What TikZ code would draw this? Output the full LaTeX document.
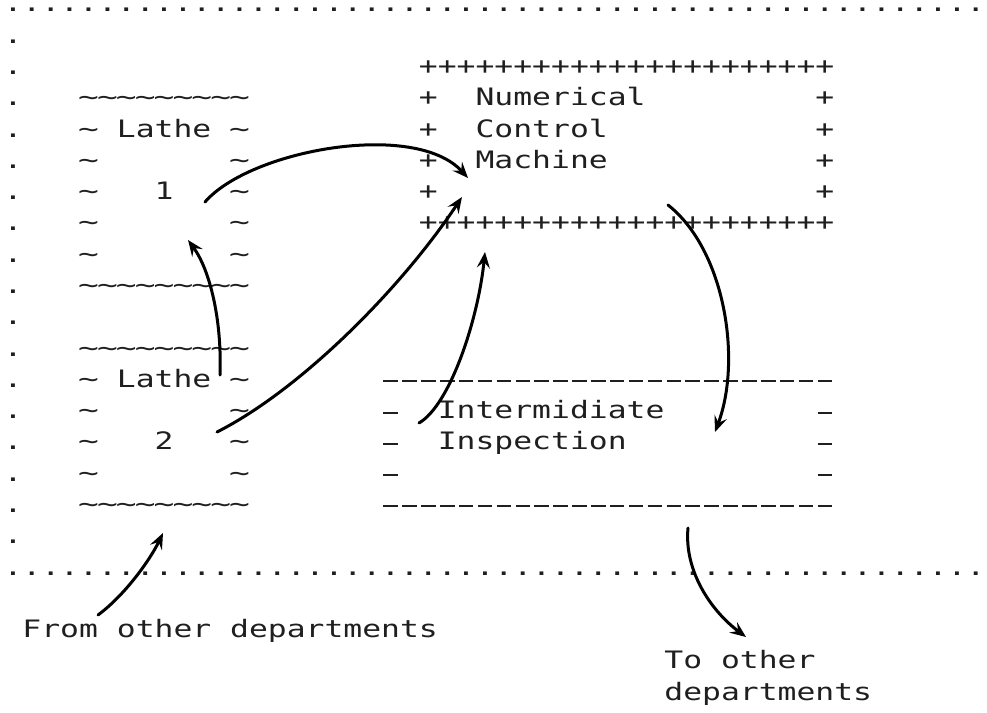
\documentclass[tikz,border=0pt]{standalone}
\usepackage{fontspec}
\newfontfamily\dotfont[FakeStretch=1.3067]{DejaVu Sans Mono}
\usetikzlibrary{arrows.meta}

% printer glyphs drawn a little wider than the font gives them
\newcommand\wavech{\makebox[17pt]{\scalebox{1.1}[1]{\char"7E}}}
\newcommand\dashch{\rule[5pt]{14.5pt}{2pt}}

\begin{document}
\begin{tikzpicture}[x=1pt,y=-1pt,
  glyph/.style={inner sep=0pt, outer sep=0pt, anchor=base west, text=black!88,
    font={\dotfont\fontsize{24}{24}\selectfont}},
  cellmark/.style={glyph, anchor=base},
  flow/.style={line width=3pt, line cap=round, line join=round,
    -{Stealth[length=16pt,width=13pt,inset=6pt]}}]

\useasboundingbox (0,0) rectangle (987,712);

% ---- printout on a character grid: one unit = one column / one line ----
\begin{scope}[shift={(3.6pt,-12pt)}, x=18.88pt, y=-31.28pt]

  % department border: dotted top and bottom lines, dotted left edge
  \foreach \c in {0,...,51} {
    \node[glyph] (rimtop-\c) at (\c,0) {.};
    \node[glyph] (rimbot-\c) at (\c,18) {.};
  }
  \foreach \r in {1,...,17}
    \node[glyph] (rimleft-\r) at (0,\r) {.};

  % Lathe 1 (tilde frame, lines 3..9)
  \foreach \c in {4,...,12} {
    \node[cellmark] (laA-top-\c) at (\c+0.5,3) {\wavech};
    \node[cellmark] (laA-bot-\c) at (\c+0.5,9) {\wavech};
  }
  \foreach \r in {4,...,8} {
    \node[cellmark] (laA-l-\r) at (4.5,\r) {\wavech};
    \node[cellmark] (laA-r-\r) at (12.5,\r) {\wavech};
  }
  \node[glyph] (latheA) at (6,4) {Lathe};
  \node[glyph] (numA) at (8,6) {1};

  % Lathe 2 (tilde frame, lines 11..16)
  \foreach \c in {4,...,12} {
    \node[cellmark] (laB-top-\c) at (\c+0.5,11) {\wavech};
    \node[cellmark] (laB-bot-\c) at (\c+0.5,16) {\wavech};
  }
  \foreach \r in {12,...,15} {
    \node[cellmark] (laB-l-\r) at (4.5,\r) {\wavech};
    \node[cellmark] (laB-r-\r) at (12.5,\r) {\wavech};
  }
  \node[glyph] (latheB) at (6,12) {Lathe};
  \node[glyph] (numB) at (8,14) {2};

  % Numerical Control Machine (plus frame, lines 2..7)
  \foreach \c in {22,...,43} {
    \node[glyph] (nc-top-\c) at (\c,2) {+};
    \node[glyph] (nc-bot-\c) at (\c,7) {+};
  }
  \foreach \r in {3,...,6} {
    \node[glyph] (nc-l-\r) at (22,\r) {+};
    \node[glyph] (nc-r-\r) at (43,\r) {+};
  }
  \node[glyph] (ncA) at (25,3) {Numerical};
  \node[glyph] (ncB) at (25,4) {Control};
  \node[glyph] (ncC) at (25,5) {Machine};

  % Intermediate inspection (dash frame, lines 12..16)
  \foreach \c in {20,...,43} {
    \node[cellmark] (in-top-\c) at (\c+0.5,12) {\dashch};
    \node[cellmark] (in-bot-\c) at (\c+0.5,16) {\dashch};
  }
  \foreach \r in {13,...,15} {
    \node[cellmark] (in-l-\r) at (20.5,\r) {\dashch};
    \node[cellmark] (in-r-\r) at (43.5,\r) {\dashch};
  }
  \node[glyph] (inA) at (23,13) {Intermidiate};
  \node[glyph] (inB) at (23,14) {Inspection};

  % outside the department
  \node[glyph] (fromA) at (1,20) {From};
  \node[glyph] (fromB) at (6,20) {other};
  \node[glyph] (fromC) at (12,20) {departments};
  \node[glyph] (toA) at (35,21) {To};
  \node[glyph] (toB) at (38,21) {other};
  \node[glyph] (toC) at (35,22) {departments};
\end{scope}

% ---- hand-drawn material flow ----
\coordinate (latheA-out) at (205,202);
\coordinate (latheA-in)  at (188,240);
\coordinate (latheB-up)  at (220,375);
\coordinate (latheB-out) at (217,432);
\coordinate (latheB-in)  at (163,533);
\coordinate (nc-inA)     at (468,178);
\coordinate (nc-inB)     at (462,197);
\coordinate (nc-inC)     at (485,252);
\coordinate (nc-out)     at (668,205);
\coordinate (insp-in)    at (715,432);
\coordinate (insp-back)  at (419,423);
\coordinate (insp-out)   at (688,528);
\coordinate (to-dept)    at (746,637);
\coordinate (from-dept)  at (98,615);

\draw[flow] (latheA-out) .. controls (250,150) and (415,120) .. (nc-inA);
\draw[flow] (latheB-up) .. controls (222,320) and (210,270) .. (latheA-in);
\draw[flow] (latheB-out) .. controls (300,390) and (400,290) .. (nc-inB);
\draw[flow] (insp-back) .. controls (450,405) and (478,320) .. (nc-inC);
\draw[flow] (nc-out) .. controls (725,250) and (742,360) .. (insp-in);
\draw[flow] (insp-out) .. controls (684,570) and (710,610) .. (to-dept);
\draw[flow] (from-dept) .. controls (125,595) and (150,560) .. (latheB-in);

\end{tikzpicture}
\end{document}
